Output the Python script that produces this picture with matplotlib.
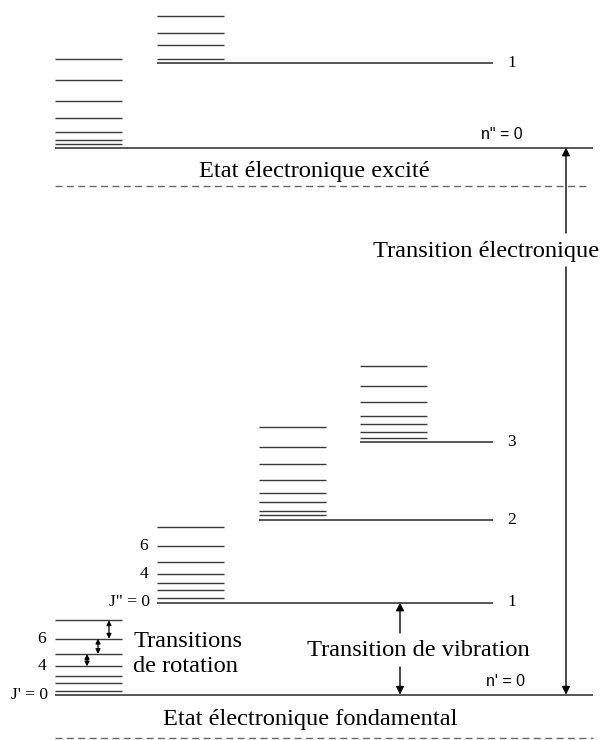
import matplotlib
matplotlib.use("Agg")
import matplotlib.pyplot as plt

# energies in arbitrary units (0 = bottom of picture, 740 = top)
ground_vib   = [45.3, 137.5, 220.0, 298.3]      # n' = 0, 1, 2, 3
excited_vib  = [592.5, 677.0]                   # n'' = 0, 1
vib_labels_g = ["n' = 0", "1", "2", "3"]
vib_labels_e = ['n" = 0', "1"]

# rotational levels sitting on top of each vibrational level
rot_g0 = [49.0, 57.5, 64.3, 73.7, 86.0, 101.3, 119.7]
rot_g1 = [141.7, 150.0, 156.7, 166.0, 177.7, 194.0, 212.7]
rot_g2 = [224.7, 229.3, 238.0, 246.7, 260.0, 276.0, 293.3, 313.0]
rot_g3 = [301.7, 307.7, 316.0, 324.5, 338.3, 354.0, 374.3]
rot_e0 = [596.0, 600.0, 608.3, 622.0, 639.3, 660.0, 680.7]
rot_e1 = [680.7, 695.0, 706.7, 724.3]

rot_labels = ["6", "4"]       # J = 6 and J = 4 marked on the two lowest stacks
rot_label_J = [6, 4]

# layout
STACK_X = [(55, 122), (157, 224), (259, 326), (360, 427)]
RIGHT_FULL = 593
RIGHT_VIB = 493
LC = "#3a3a3a"
LW = 1.0
SERIF = ["Liberation Serif", "DejaVu Serif"]
SANS = ["Liberation Sans", "DejaVu Sans"]
FS_BIG = 17.6
FS_NUM = 12.5
FS_N = 11.5

fig = plt.figure(figsize=(6.03, 7.40), dpi=100)
ax = fig.add_axes([0, 0, 1, 1])
ax.set_xlim(0, 603)
ax.set_ylim(0, 740)
ax.axis("off")


def stack(x0x1, levels):
    x0, x1 = x0x1
    for e in levels:
        ax.plot([x0, x1], [e, e], color=LC, lw=LW, solid_capstyle="butt")


# ground state vibrational levels
for i, e in enumerate(ground_vib):
    x0 = STACK_X[i][0]
    x1 = RIGHT_FULL if i == 0 else RIGHT_VIB
    ax.plot([x0, x1], [e, e], color=LC, lw=LW + 0.2, solid_capstyle="butt")
    if i > 0:
        ax.text(512, e, vib_labels_g[i], fontsize=FS_NUM, family=SERIF,
                ha="center", va="center")
ax.text(505, ground_vib[0] + 13, vib_labels_g[0], fontsize=FS_N, family=SANS,
        ha="center", va="center")

for i, e in enumerate(excited_vib):
    x0 = STACK_X[i][0]
    x1 = RIGHT_FULL if i == 0 else RIGHT_VIB
    ax.plot([x0, x1], [e, e], color=LC, lw=LW + 0.2, solid_capstyle="butt")
    if i > 0:
        ax.text(512, e, vib_labels_e[i], fontsize=FS_NUM, family=SERIF,
                ha="center", va="center")
ax.text(502, excited_vib[0] + 13, vib_labels_e[0], fontsize=FS_N, family=SANS,
        ha="center", va="center")

for xr, lv in zip(STACK_X, [rot_g0, rot_g1, rot_g2, rot_g3]):
    stack(xr, lv)
stack(STACK_X[0], rot_e0)
stack(STACK_X[1], rot_e1)

# J labels
for lv, base, xr, jname in [(rot_g0, ground_vib[0], STACK_X[0], "J' = 0"),
                            (rot_g1, ground_vib[1], STACK_X[1], 'J" = 0')]:
    xl = xr[0] - 9
    ax.text(xl + 2, base, jname, fontsize=FS_NUM, family=SERIF, ha="right", va="center")
    for lab, j in zip(rot_labels, rot_label_J):
        ax.text(xl, lv[j - 1], lab, fontsize=FS_NUM, family=SERIF,
                ha="right", va="center")

# dashed separators
dash_kw = dict(color="#666666", lw=1.0, linestyle=(0, (5, 3.2)))
ax.plot([55, 590], [554, 554], **dash_kw)
ax.plot([55, 593], [2, 2], **dash_kw)

# state names
ax.text(314, 568, "Etat électronique excité", fontsize=FS_BIG, family=SERIF,
        ha="center", va="center")
ax.text(310, 21, "Etat électronique fondamental", fontsize=FS_BIG, family=SERIF,
        ha="center", va="center")

arr = dict(arrowstyle="-|>", color="black", lw=1.0, mutation_scale=12,
           shrinkA=0, shrinkB=0)

# electronic transition
xe = 566
ax.annotate("", xy=(xe, excited_vib[0]), xytext=(xe, 507), arrowprops=arr)
ax.annotate("", xy=(xe, ground_vib[0]), xytext=(xe, 473), arrowprops=arr)
ax.text(486, 489, "Transition électronique", fontsize=FS_BIG, family=SERIF,
        ha="center", va="center")

# vibrational transition
xv = 400
ax.annotate("", xy=(xv, ground_vib[1]), xytext=(xv, 107), arrowprops=arr)
ax.annotate("", xy=(xv, ground_vib[0]), xytext=(xv, 73), arrowprops=arr)
ax.text(418, 90, "Transition de vibration", fontsize=FS_BIG, family=SERIF,
        ha="center", va="center")

# rotational transitions
darr = dict(arrowstyle="<|-|>", color="black", lw=0.9, mutation_scale=7,
            shrinkA=0, shrinkB=0)
for x, (lo, hi) in zip([87, 98, 109], [(3, 4), (4, 5), (5, 6)]):
    ax.annotate("", xy=(x, rot_g0[hi]), xytext=(x, rot_g0[lo]), arrowprops=darr)
ax.text(133, 86, "Transitions\nde rotation", fontsize=FS_BIG, family=SERIF,
        ha="left", va="center", linespacing=1.2)

fig.savefig("out.png", dpi=100)
